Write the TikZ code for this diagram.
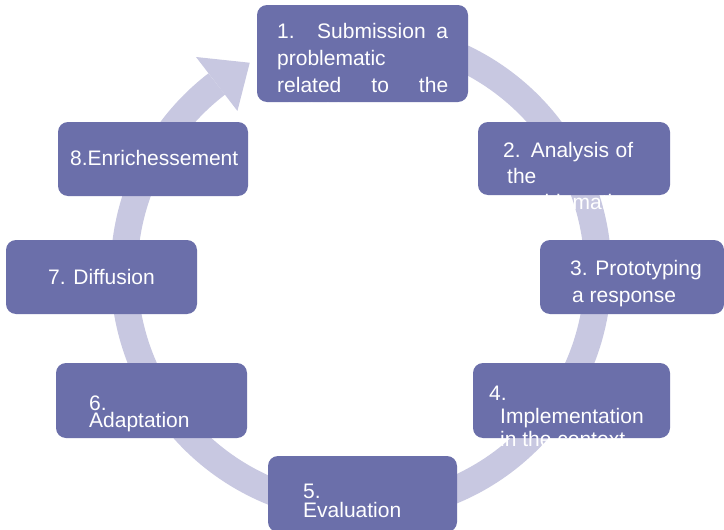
\documentclass[tikz,border=0pt]{standalone}
\usepackage{fontspec}
\setmainfont{Liberation Sans}
\definecolor{boxc}{RGB}{107,111,170}
\definecolor{bandc}{RGB}{200,200,225}
\begin{document}
\begin{tikzpicture}[x=1pt,y=-1pt,
  box/.style={fill=boxc, rounded corners=10pt, inner sep=0pt, outer sep=0pt, anchor=north west},
  txt/.style={text=white, inner sep=0pt, anchor=base west, font=\fontsize{21}{25}\selectfont}]
\useasboundingbox (0,0) rectangle (724,530);
\fill[white] (0,0) rectangle (724,530);
% circular arrow
\begin{scope}[shift={(361,272)}]
  \draw[bandc, line width=27pt] (-105:237) arc[start angle=-105, end angle=232.5, radius=237];
  \fill[bandc] (232.5:203) -- (242:237) -- (232.5:271) -- cycle;
\end{scope}
% boxes
\node[box, minimum width=211pt, minimum height=97pt] (b1) at (257,5) {};
\node[box, minimum width=192pt, minimum height=73pt] (b2) at (478,122) {};
\node[box, minimum width=184pt, minimum height=74pt] (b3) at (540,240) {};
\node[box, minimum width=197pt, minimum height=75pt] (b4) at (473,363) {};
\node[box, minimum width=189pt, minimum height=76pt] (b5) at (268,456) {};
\node[box, minimum width=191pt, minimum height=75pt] (b6) at (56,363) {};
\node[box, minimum width=191pt, minimum height=74pt] (b7) at (6,240) {};
\node[box, minimum width=190pt, minimum height=74pt] (b8) at (58,122) {};
% texts
\node[txt] (t1a) at (277,38) {\makebox[171pt][s]{1. Submission a}};
\node[txt] (t1b) at (277,65) {problematic};
\node[txt] (t1c) at (277,92) {\makebox[171pt][s]{related to the}};
\node[txt] (t1d) at (280,118) {definition};
\node[txt] (t2a) at (503,157) {\makebox[130pt][s]{2. Analysis of}};
\node[txt] (t2b) at (507,183) {the};
\node[txt] (t2c) at (514,209) {problematic};
\node[txt] (t3a) at (570,275) {3. Prototyping};
\node[txt] (t3b) at (572,302) {a response};
\node[txt] (t4a) at (489,400) {4.};
\node[txt] (t4b) at (500,423) {Implementation};
\node[txt] (t4c) at (500,446) {in the context};
\node[txt] (t5a) at (303,498) {5.};
\node[txt] (t5b) at (303,517) {Evaluation};
\node[txt] (t6a) at (89,410) {6.};
\node[txt] (t6b) at (89,427) {Adaptation};
\node[txt] (t7) at (48,284) {7. Diffusion};
\node[txt] (t8) at (70,165) {8.Enrichessement};
\end{tikzpicture}
\end{document}
